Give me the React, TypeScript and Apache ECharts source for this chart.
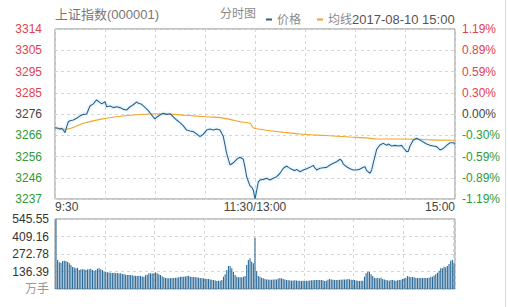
import React, { useEffect, useRef } from 'react';
import * as echarts from 'echarts';

const titleText = '上证指数(000001)';
const chartTypeText = '分时图';
const dateLabel = '2017-08-10 15:00';
const seriesNames = ['价格', '均线'];

const priceMin = 3236.59;
const priceMax = 3314.55;
// bottom to top
const priceLabels = ['3237', '3246', '3256', '3266', '3276', '3285', '3295', '3305', '3314'];
const pctLabels = ['-1.19%', '-0.89%', '-0.59%', '-0.30%', '0.00%', '0.30%', '0.59%', '0.89%', '1.19%'];
const volMax = 545.55;
const volLabels = ['万手', '136.39', '272.78', '409.16', '545.55'];
const timeLabelMinutes = [0, 120, 240];
const timeLabels = ['9:30', '11:30/13:00', '15:00'];

const priceMinutes = [0, 2, 3, 4, 5, 6, 7, 8, 9, 11, 13, 15, 17, 19, 20, 21, 23, 24, 25, 27, 28, 30, 31, 33, 35, 37, 39, 41, 43, 45, 47, 49, 50, 52, 54, 56, 58, 60, 61, 63, 65, 67, 69, 71, 73, 75, 77, 79, 81, 83, 85, 87, 89, 91, 93, 95, 97, 99, 101, 102, 103, 105, 107, 109, 111, 113, 114, 115, 117, 118, 119, 120, 121, 122, 123, 125, 127, 129, 131, 133, 135, 137, 139, 140, 142, 144, 145, 147, 149, 151, 153, 155, 156, 157, 159, 161, 163, 165, 167, 169, 171, 172, 173, 175, 177, 179, 181, 183, 185, 186, 187, 189, 190, 191, 192, 193, 195, 197, 199, 200, 202, 204, 206, 208, 209, 211, 212, 213, 215, 217, 219, 221, 223, 225, 227, 229, 231, 233, 235, 237, 239, 240];
const prices = [3269.3, 3269.0, 3268.6, 3269.0, 3268.2, 3267.0, 3269.7, 3272.0, 3272.5, 3272.8, 3273.6, 3274.7, 3275.4, 3275.6, 3277.4, 3279.2, 3280.2, 3281.2, 3282.0, 3280.8, 3280.2, 3281.2, 3278.9, 3279.2, 3278.5, 3278.9, 3278.5, 3277.7, 3277.4, 3278.9, 3279.8, 3281.1, 3280.5, 3280.0, 3278.6, 3277.1, 3275.1, 3273.3, 3274.1, 3275.1, 3275.9, 3275.4, 3275.7, 3274.3, 3272.8, 3271.6, 3270.1, 3268.2, 3267.8, 3267.5, 3266.4, 3265.2, 3266.3, 3268.2, 3268.7, 3268.2, 3268.7, 3268.2, 3265.2, 3261.4, 3257.5, 3252.2, 3253.2, 3254.8, 3255.7, 3254.8, 3251.1, 3246.8, 3242.6, 3242.0, 3240.7, 3236.6, 3240.4, 3244.5, 3245.3, 3245.6, 3246.1, 3245.3, 3246.1, 3246.8, 3248.4, 3250.7, 3251.7, 3251.1, 3250.2, 3249.6, 3250.2, 3249.1, 3249.9, 3250.5, 3251.1, 3252.0, 3250.8, 3249.9, 3250.7, 3250.9, 3251.1, 3252.2, 3253.0, 3253.7, 3254.8, 3254.2, 3252.6, 3251.4, 3250.5, 3249.9, 3249.9, 3250.3, 3251.1, 3251.4, 3249.6, 3248.4, 3249.9, 3253.2, 3256.3, 3259.4, 3261.4, 3262.1, 3261.2, 3261.8, 3260.9, 3261.2, 3260.9, 3261.2, 3260.1, 3258.3, 3258.5, 3260.9, 3263.6, 3264.4, 3263.6, 3262.7, 3261.8, 3261.2, 3260.9, 3260.6, 3259.1, 3259.8, 3261.2, 3262.4, 3262.4, 3261.7];

const avgMinutes = [0, 7, 17, 27, 37, 47, 57, 63, 73, 83, 93, 99, 105, 111, 117, 119, 123, 129, 137, 147, 157, 167, 177, 187, 193, 207, 217, 225, 240];
const avgPrices = [3269.3, 3268.6, 3271.3, 3273.1, 3274.3, 3275.1, 3275.6, 3275.7, 3275.3, 3274.7, 3274.2, 3273.9, 3273.1, 3272.0, 3271.3, 3269.3, 3268.6, 3267.9, 3267.2, 3266.4, 3265.9, 3265.5, 3265.0, 3264.6, 3264.1, 3264.1, 3264.0, 3263.7, 3263.5];

const volumes = [
  545.55, 226, 208, 205, 218, 221, 218, 210, 200, 187,
  172, 168, 161, 166, 148, 153, 153, 153, 148, 153,
  153, 158, 148, 143, 148, 158, 161, 153, 148, 135,
  132, 130, 128, 127, 125, 126, 124, 125, 120, 122,
  117, 114, 112, 109, 110, 109, 107, 104, 104, 101,
  103, 101, 98, 96, 108, 112, 122, 122, 120, 122,
  130, 122, 115, 109, 100, 91, 86, 83, 83, 83,
  85, 86, 88, 88, 92, 96, 96, 96, 98, 101,
  104, 96, 94, 93, 92, 91, 88, 86, 84, 83,
  80, 78, 77, 75, 72, 70, 66, 62, 64, 65,
  70, 96, 114, 148, 179, 179, 161, 135, 109, 96,
  91, 91, 91, 96, 101, 187, 226, 239, 213, 200,
  400, 140, 101, 96, 88, 83, 78, 75, 75, 73,
  73, 75, 75, 75, 80, 86, 83, 78, 75, 70,
  68, 68, 65, 66, 68, 66, 65, 64, 62, 64,
  62, 64, 65, 66, 68, 68, 70, 70, 70, 70,
  70, 68, 62, 65, 72, 78, 75, 72, 70, 70,
  70, 72, 73, 75, 75, 75, 78, 75, 72, 70,
  70, 66, 64, 62, 64, 65, 96, 122, 135, 135,
  114, 101, 88, 83, 86, 83, 88, 78, 75, 70,
  68, 65, 70, 70, 66, 65, 68, 70, 72, 78,
  83, 88, 101, 96, 91, 94, 91, 86, 86, 86,
  86, 86, 86, 86, 86, 88, 96, 96, 106, 114,
  127, 143, 161, 161, 174, 169, 179, 195, 221, 228,
  200,
];

const RED = '#e0424f';
const GREEN = '#2f9a35';
const NEUTRAL = '#444';
const FONT = 'Arial, "Liberation Sans", "Noto Sans CJK SC", sans-serif';
const PRICE_COLOR = '#2b5f8a';
const AVG_COLOR = '#f3a527';
const BAR_COLOR = '#2c6a98';
const GRID_LINE = '#d6d6d6';
const FRAME = '#8c8c8c';

function idxColor(v: any) {
  const i = Math.round(Number(v));
  if (i > 0) return RED;
  if (i < 0) return GREEN;
  return NEUTRAL;
}

export default function App() {
  const ref = useRef<HTMLDivElement>(null);
  useEffect(() => {
    if (!ref.current) return;
    const chart = echarts.init(ref.current, undefined, { renderer: 'svg' });
    const volInterval = volMax / 4;
    const priceData = priceMinutes.map((m, i) => [m, prices[i]]);
    const avgData = avgMinutes.map((m, i) => [m, avgPrices[i]]);
    const volData = volumes.map((v, i) => [i, v]);
    const splitDash = { show: true, lineStyle: { color: GRID_LINE, type: [3, 3] as any, width: 1 } };
    const timeFormatter = (v: number) => {
      const k = timeLabelMinutes.indexOf(Math.round(v));
      return k >= 0 ? timeLabels[k] : '';
    };

    chart.setOption({
      animation: false,
      backgroundColor: '#fff',
      textStyle: { fontFamily: FONT },
      legend: {
        data: seriesNames,
        left: 261,
        top: 8,
        icon: 'rect',
        itemWidth: 6,
        itemHeight: 2,
        itemGap: 16,
        textStyle: {
          fontSize: 12,
          color: '#8a8a8a',
          fontFamily: FONT,
          rich: { d: { fontSize: 13, color: '#555', fontFamily: FONT } },
        },
        formatter: (name: string) => (name === seriesNames[1] ? name + '{d|' + dateLabel + '}' : name),
      },
      graphic: [
        { type: 'text', left: 55, top: 8, style: { text: titleText, fill: '#777', font: '13px ' + FONT } },
        { type: 'text', left: 220, top: 8, style: { text: chartTypeText, fill: '#8a8a8a', font: '12px ' + FONT } },
        { type: 'line', shape: { x1: 505.5, y1: 0, x2: 505.5, y2: 307 }, style: { stroke: '#dcdcdc', lineWidth: 1 } },
      ],
      grid: [
        { left: 55, top: 29, width: 400, height: 170, show: true, borderColor: FRAME, borderWidth: 1, backgroundColor: 'transparent' },
        { left: 55, top: 219, width: 400, height: 70, show: true, borderColor: FRAME, borderWidth: 1, backgroundColor: 'transparent' },
      ],
      xAxis: [
        {
          type: 'value', gridIndex: 0, min: 0, max: 240, interval: 30,
          axisLine: { show: false }, axisTick: { show: false },
          splitLine: splitDash,
          axisLabel: {
            show: true, formatter: timeFormatter, color: '#444', fontSize: 12, margin: 2,
            fontFamily: FONT, alignMinLabel: 'left', alignMaxLabel: 'right', showMinLabel: true, showMaxLabel: true,
          },
        },
        {
          type: 'value', gridIndex: 1, min: -0.6, max: 240.6, interval: 30,
          axisLine: { show: false }, axisTick: { show: false },
          splitLine: splitDash,
          axisLabel: { show: false },
        },
      ],
      yAxis: [
        {
          type: 'value', gridIndex: 0, position: 'left', min: -4, max: 4, interval: 1,
          axisLine: { show: false }, axisTick: { show: false },
          splitLine: splitDash,
          axisLabel: {
            fontSize: 12, margin: 13, fontFamily: FONT,
            formatter: (v: number) => priceLabels[Math.round(v) + 4] ?? '',
            color: (v: any) => idxColor(v),
          },
        },
        {
          type: 'value', gridIndex: 0, position: 'right', min: -4, max: 4, interval: 1,
          axisLine: { show: false }, axisTick: { show: false },
          splitLine: { show: false },
          axisLabel: {
            fontSize: 12, margin: 7, fontFamily: FONT,
            formatter: (v: number) => pctLabels[Math.round(v) + 4] ?? '',
            color: (v: any) => idxColor(v),
          },
        },
        { type: 'value', gridIndex: 0, min: priceMin, max: priceMax, show: false },
        {
          type: 'value', gridIndex: 1, position: 'left', min: 0, max: volMax, interval: volInterval,
          axisLine: { show: false }, axisTick: { show: false },
          splitLine: splitDash,
          axisLabel: {
            fontSize: 12, margin: 6, fontFamily: FONT,
            formatter: (v: number) => volLabels[Math.round(v / volInterval)] ?? '',
            color: (v: any) => (Math.round(Number(v)) === 0 ? '#999' : '#333'),
          },
        },
      ],
      series: [
        {
          name: seriesNames[0], type: 'line', xAxisIndex: 0, yAxisIndex: 2, data: priceData,
          symbol: 'none', color: PRICE_COLOR,
          lineStyle: { width: 1.1, color: PRICE_COLOR, shadowColor: 'rgba(120,200,240,0.7)', shadowBlur: 3 },
          z: 3,
        },
        {
          name: seriesNames[1], type: 'line', xAxisIndex: 0, yAxisIndex: 2, data: avgData,
          symbol: 'none', smooth: 0.3, color: AVG_COLOR,
          lineStyle: { width: 1.1, color: AVG_COLOR },
          z: 2,
        },
        {
          name: 'volume', type: 'bar', xAxisIndex: 1, yAxisIndex: 3, data: volData,
          barWidth: 1.1, itemStyle: { color: BAR_COLOR }, z: 2,
        },
      ],
    });
    return () => chart.dispose();
  }, []);
  return <div ref={ref} style={{ position: 'absolute', left: 0, top: 0, width: 508, height: 307 }} />;
}
